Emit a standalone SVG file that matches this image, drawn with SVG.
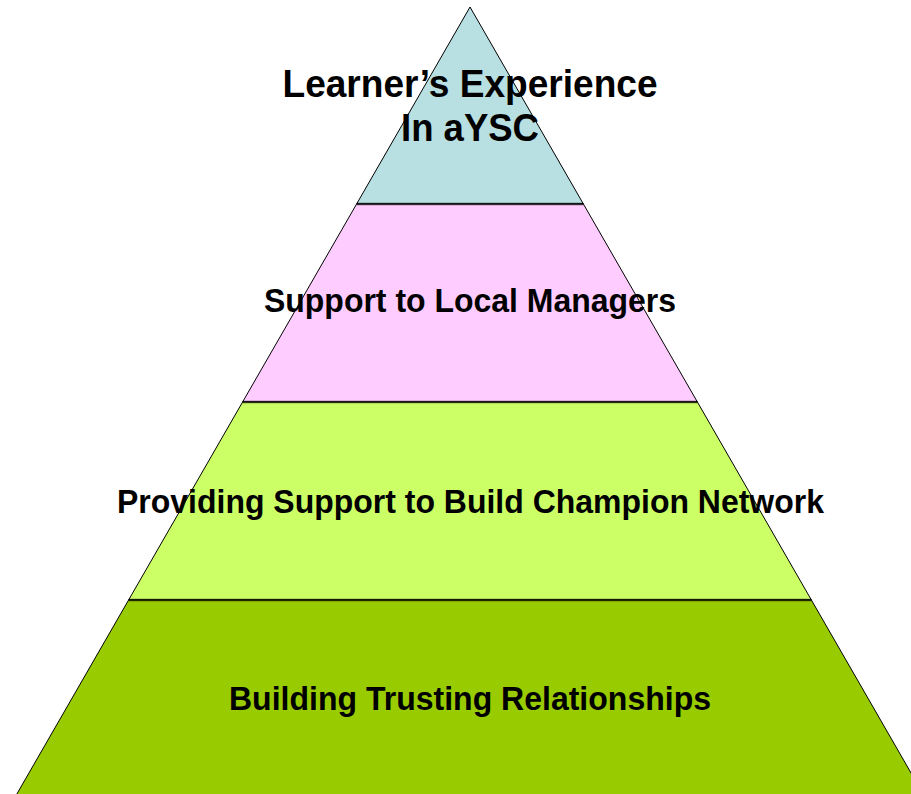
<svg xmlns="http://www.w3.org/2000/svg" width="911" height="794" viewBox="0 0 911 794">
<style>
.layer { stroke: #000; stroke-width: 1; stroke-linejoin: miter; }
.sep { stroke: #000; stroke-opacity: 0.6; stroke-width: 2.5; }
.lbl { font-family: "Liberation Sans", Arial, sans-serif; font-weight: bold; fill: #000; text-anchor: middle; }
</style>
<rect width="911" height="794" fill="#fff"/>
<g id="layer-top">
<polygon class="layer" fill="#b8dfe2" points="470,7 583.4,204 356.6,204"/>
</g>
<g id="layer-local-managers">
<polygon class="layer" fill="#ffccff" points="356.6,204 583.4,204 697.4,402 242.6,402"/>
</g>
<g id="layer-champion-network">
<polygon class="layer" fill="#ccff66" points="242.6,402 697.4,402 811.4,600 128.6,600"/>
</g>
<g id="layer-trusting-relationships">
<polygon class="layer" fill="#99cc00" points="128.6,600 811.4,600 926.6,800 13.4,800"/>
</g>
<g id="connectors">
<line class="sep" x1="356.6" y1="204" x2="583.4" y2="204"/>
<line class="sep" x1="242.6" y1="402" x2="697.4" y2="402"/>
<line class="sep" x1="128.6" y1="600" x2="811.4" y2="600"/>
</g>
<g id="labels">
<text class="lbl" x="470" y="97" font-size="38" textLength="375" lengthAdjust="spacingAndGlyphs">Learner’s Experience</text>
<text class="lbl" x="470" y="141" font-size="38" textLength="138" lengthAdjust="spacingAndGlyphs">In aYSC</text>
<text class="lbl" x="470" y="312" font-size="33" textLength="412" lengthAdjust="spacingAndGlyphs">Support to Local Managers</text>
<text class="lbl" x="470.5" y="513" font-size="33" textLength="707" lengthAdjust="spacingAndGlyphs">Providing Support to Build Champion Network</text>
<text class="lbl" x="470" y="710" font-size="33" textLength="482" lengthAdjust="spacingAndGlyphs">Building Trusting Relationships</text>
</g>
</svg>
